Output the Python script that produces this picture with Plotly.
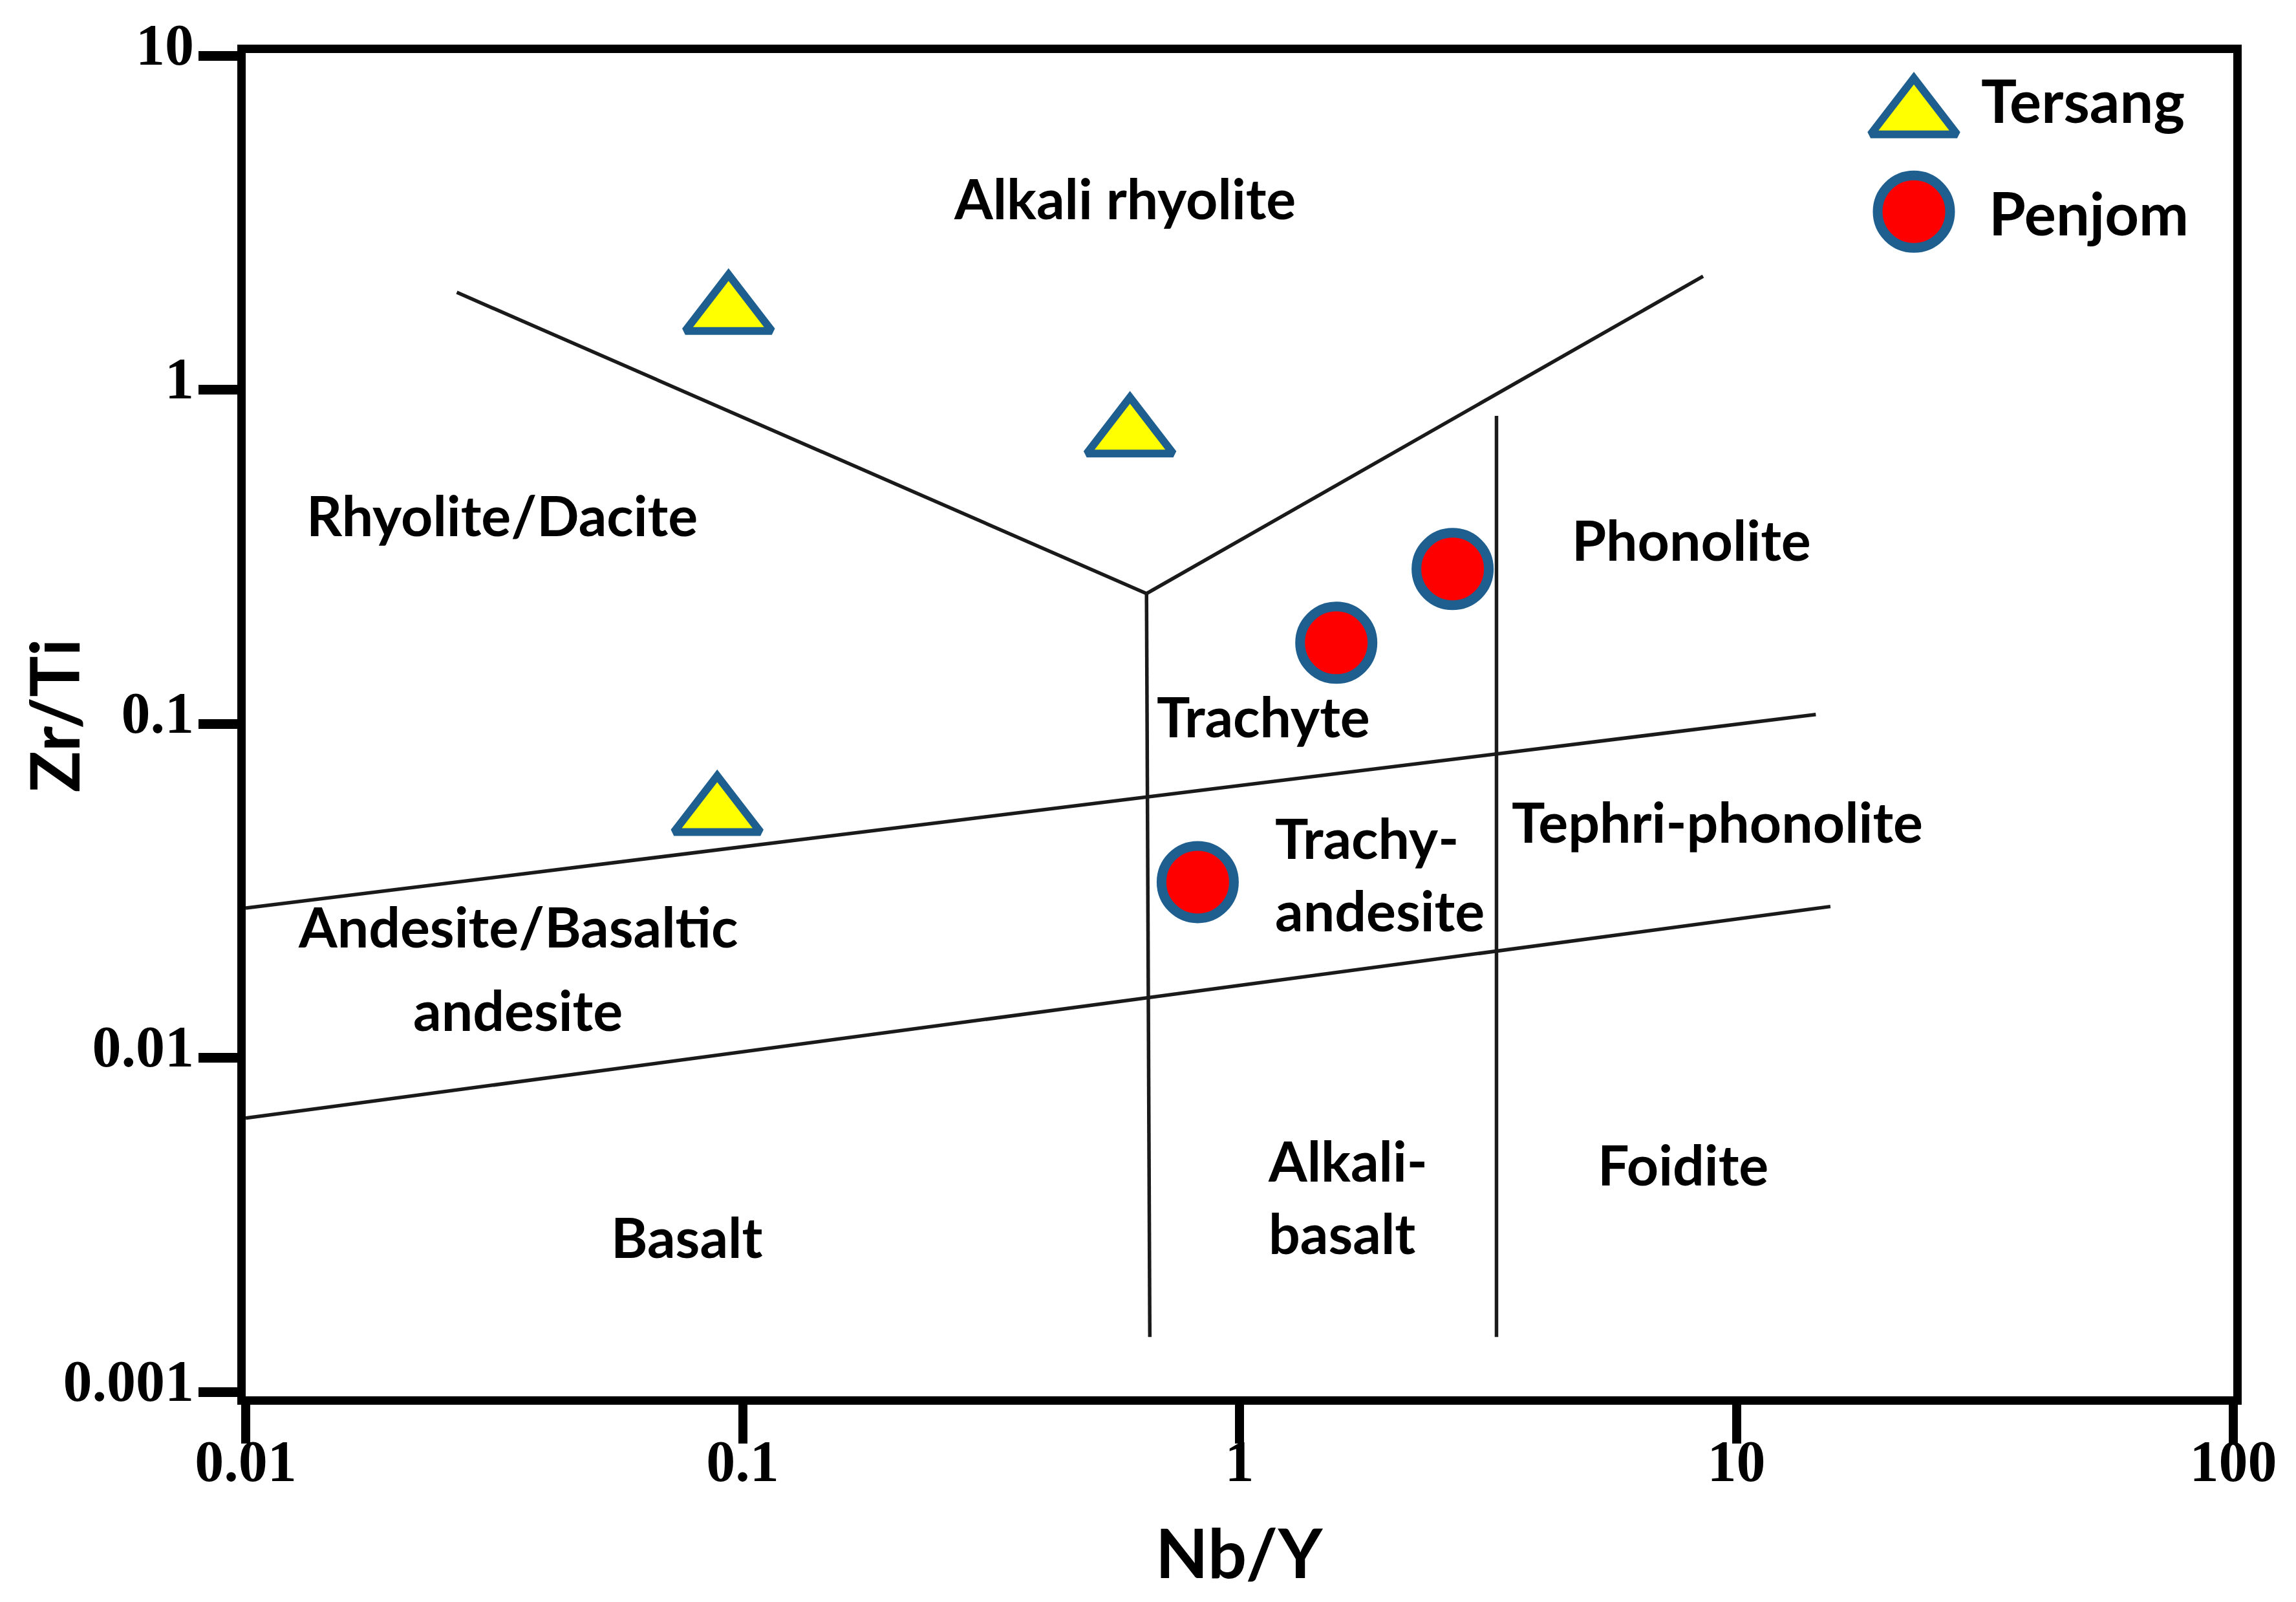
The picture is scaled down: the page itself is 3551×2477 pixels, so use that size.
import math
import plotly.graph_objects as go

# ---------------- data ----------------
series_names = ["Tersang", "Penjom"]

tersang_nb_y = [0.0937, 0.602, 0.0889]
tersang_zr_ti = [1.71, 0.734, 0.054]

penjom_nb_y = [2.685, 1.566, 0.824]
penjom_zr_ti = [0.291, 0.175, 0.0336]

# field-boundary lines (Nb/Y, Zr/Ti vertices)
v_left_x = [0.0266, 0.65]
v_left_y = [1.96, 0.2457]
v_right_x = [0.65, 8.57]
v_right_y = [0.2457, 2.19]
alkali_x = [0.65, 0.66]
alkali_y = [0.2457, 0.00146]
phono_x = [3.29, 3.29]
phono_y = [0.837, 0.00146]
upper_x = [0.01, 14.45]
upper_y = [0.0281, 0.1067]
lower_x = [0.01, 15.46]
lower_y = [0.0066, 0.0284]

x_tickvals = [0.01, 0.1, 1, 10, 100]
x_ticktext = ["0.01", "0.1", "1", "10", "100"]
y_tickvals = [0.001, 0.01, 0.1, 1, 10]
y_ticktext = ["0.001", "0.01", "0.1", "1", "10"]

field_names = ["Alkali rhyolite", "Rhyolite/Dacite", "Phonolite", "Trachyte",
               "Trachy-<br>andesite", "Tephri-phonolite", "Andesite/Basaltic",
               "andesite", "Alkali-<br>basalt", "Foidite", "Basalt"]

# ---------------- layout constants ----------------
W, H = 3551, 2477
BLUE = "#1F5F8F"
LABEL_FONT = dict(family="Lato", size=86, color="black", weight="bold")
TICK_FONT = dict(family="Liberation Serif", size=90, color="black", weight="bold")

# label positions in log10 axis units: (x, y, xanchor)
field_pos = [(-0.231, 0.576, "center"), (-1.484, -0.372, "center"),
             (0.909, -0.446, "center"), (0.0486, -0.975, "center"),
             (0.069, -1.447, "left"), (0.962, -1.290, "center"),
             (-1.452, -1.604, "center"), (-1.452, -1.855, "center"),
             (0.0546, -2.415, "left"), (0.892, -2.318, "center"),
             (-1.113, -2.535, "center")]

fig = go.Figure()

line_style = dict(color="#1a1a1a", width=5.5)
for xs, ys in [(v_left_x, v_left_y), (v_right_x, v_right_y), (alkali_x, alkali_y),
               (phono_x, phono_y), (upper_x, upper_y), (lower_x, lower_y)]:
    fig.add_trace(go.Scatter(x=xs, y=ys, mode="lines", line=line_style,
                             showlegend=False, hoverinfo="skip"))

tri_marker = dict(symbol="triangle-up", size=116, color="#FFFF00",
                  line=dict(color=BLUE, width=12))
dot_marker = dict(symbol="circle", size=112, color="#FF0000",
                  line=dict(color=BLUE, width=15))

fig.add_trace(go.Scatter(x=tersang_nb_y, y=tersang_zr_ti, mode="markers",
                         name=series_names[0], marker=tri_marker, showlegend=False))
fig.add_trace(go.Scatter(x=penjom_nb_y, y=penjom_zr_ti, mode="markers",
                         name=series_names[1], marker=dot_marker, showlegend=False))

# hand-built legend on an overlay axis (0..1 box coordinates)
legend_marker_x = 0.8393
legend_marker_y = [0.9534, 0.8819]
legend_text_x = [0.8725, 0.8764]
legend_text_y = [0.9652, 0.8815]
fig.add_trace(go.Scatter(x=[legend_marker_x], y=[legend_marker_y[0]], mode="markers",
                         marker=tri_marker, xaxis="x2", yaxis="y2",
                         showlegend=False, hoverinfo="skip"))
fig.add_trace(go.Scatter(x=[legend_marker_x], y=[legend_marker_y[1]], mode="markers",
                         marker=dot_marker, xaxis="x2", yaxis="y2",
                         showlegend=False, hoverinfo="skip"))

annotations = []
for name, (lx, ly, anc) in zip(field_names, field_pos):
    annotations.append(dict(x=lx, y=ly, xref="x", yref="y", text=name,
                            showarrow=False, xanchor=anc, yanchor="middle",
                            align="left" if anc == "left" else "center",
                            font=LABEL_FONT))
for i, name in enumerate(series_names):
    annotations.append(dict(x=legend_text_x[i], y=legend_text_y[i], xref="paper", yref="paper",
                            text=name, showarrow=False, xanchor="left", yanchor="middle",
                            font=dict(family="Lato", size=92, color="black", weight="bold")))
# axis titles
annotations.append(dict(x=0.5, y=-0.1154, xref="paper", yref="paper", text="Nb/Y",
                        showarrow=False, xanchor="center", yanchor="middle",
                        font=dict(family="Lato", size=106, color="black", weight="bold")))
annotations.append(dict(x=-0.0969, y=0.5065, xref="paper", yref="paper", text="Zr/Ti",
                        showarrow=False, xanchor="center", yanchor="middle", textangle=-90,
                        font=dict(family="Lato", size=106, color="black", weight="bold")))

# the page body adds an 8 px offset; margins compensate for it
fig.update_layout(
    width=W, height=H,
    margin=dict(l=372, r=105, t=62, b=326),
    paper_bgcolor="white", plot_bgcolor="white",
    showlegend=False,
    annotations=annotations,
    xaxis=dict(type="log", range=[-2, 2], tickvals=x_tickvals, ticktext=x_ticktext,
               showgrid=False, zeroline=False, showline=True, linecolor="black",
               linewidth=13, mirror=True, ticks="outside", ticklen=60, tickwidth=14,
               tickcolor="black", tickfont=TICK_FONT, ticklabelstandoff=-50),
    yaxis=dict(type="log", range=[-3.0135, 1.009], tickvals=y_tickvals, ticktext=y_ticktext,
               showgrid=False, zeroline=False, showline=True, linecolor="black",
               linewidth=13, mirror=True, ticks="outside", ticklen=60, tickwidth=15,
               tickcolor="black", tickfont=TICK_FONT, ticklabelstandoff=-11,
               ticklabelshift=-18),
    xaxis2=dict(overlaying="x", range=[0, 1], visible=False, fixedrange=True),
    yaxis2=dict(overlaying="y", range=[0, 1], visible=False, fixedrange=True),
)

fig.write_html("out.html")
